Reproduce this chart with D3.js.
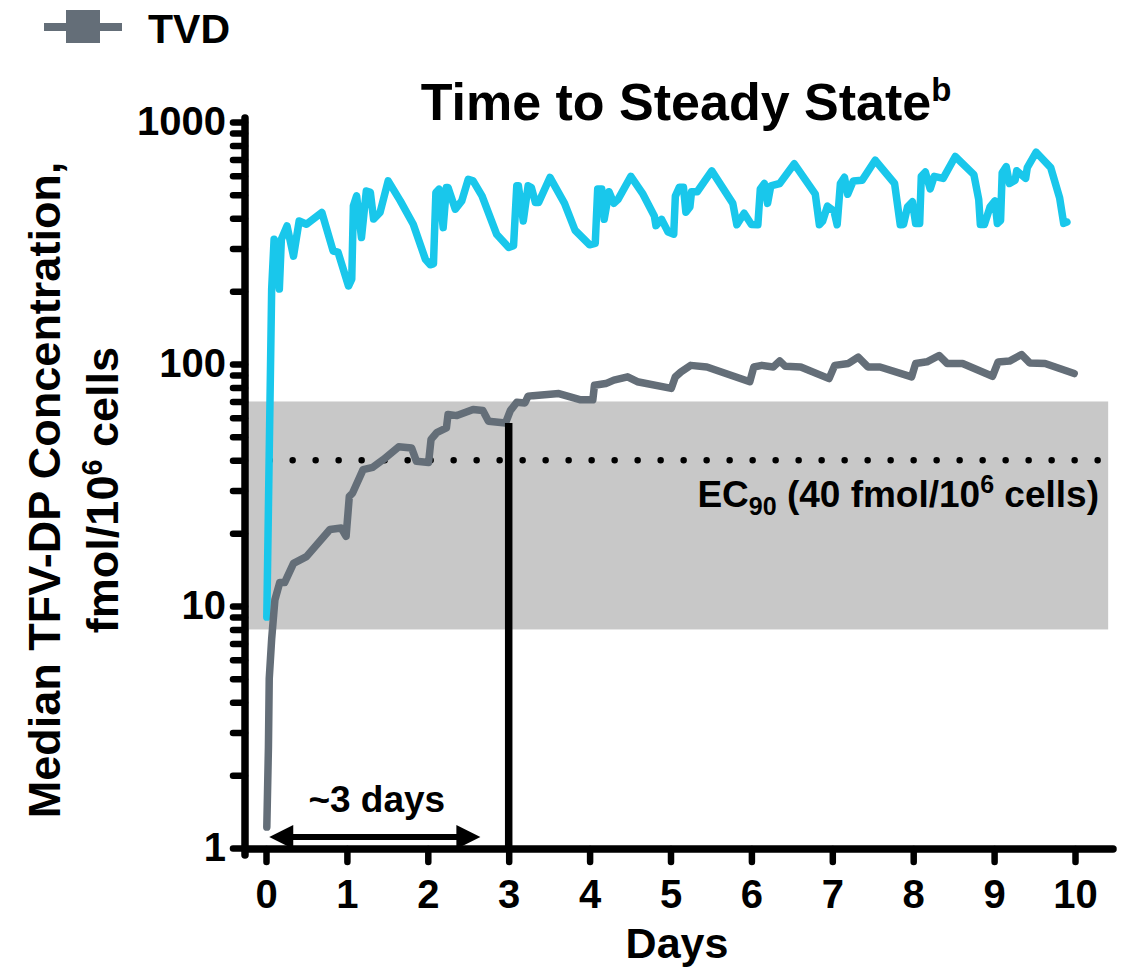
<!DOCTYPE html>
<html>
<head>
<meta charset="utf-8">
<script src="https://cdn.jsdelivr.net/npm/d3@7"></script>
<style>
	body { margin: 0; background: #ffffff; }
	svg { display: block; font-family: 'Liberation Sans', Arial, sans-serif; font-weight: bold; }
</style>
</head>
<body>
<svg id="chart" width="1124" height="972"></svg>
<script>

// series (days, fmol/10^6 cells)
var aTvdDays = [0.01,0.03,0.04,0.07,0.11,0.17,0.23,0.34,0.50,0.79,0.93,0.99,1.03,1.07,1.20,1.32,1.45,1.64,1.80,1.86,2.01,2.04,2.11,2.23,2.25,2.36,2.56,2.68,2.75,2.96,3.02,3.10,3.20,3.24,3.30,3.62,3.89,4.04,4.06,4.20,4.30,4.47,4.59,5.01,5.06,5.13,5.25,5.45,5.98,6.03,6.13,6.27,6.35,6.42,6.61,6.96,7.03,7.20,7.32,7.44,7.59,7.98,8.03,8.17,8.32,8.42,8.61,8.98,9.05,9.19,9.34,9.44,9.63,9.99];
var aTvdValues = [1.22,2.6,5.0,7.3,10.6,12.5,12.5,15.0,16.0,20.7,21.0,19.4,28.4,29.3,36.6,37.4,40.3,45.5,45.0,39.6,39.2,48.8,52,54.4,61.8,61.2,64.9,64.2,58,57,64.2,69.5,69,73.6,74,75.5,71.1,71.1,81.7,83,85.8,88.5,84.5,79.3,88.5,92.8,98.7,97.2,84.5,97.2,98.7,97.2,103,97.8,97.2,87,98.7,100.5,106.7,97.2,97.2,88.5,100.5,102.1,108.4,100.5,100.5,89,102,102.8,109.4,101,100.5,91.3];

var aCyanDays = [0.01,0.07,0.10,0.165,0.19,0.26,0.34,0.41,0.50,0.69,0.83,0.89,1.02,1.06,1.08,1.12,1.18,1.24,1.29,1.33,1.41,1.51,1.66,1.82,1.97,2.03,2.07,2.10,2.14,2.19,2.23,2.25,2.34,2.42,2.50,2.56,2.67,2.85,3.00,3.06,3.10,3.12,3.18,3.24,3.28,3.33,3.37,3.51,3.69,3.82,4.00,4.07,4.10,4.15,4.18,4.24,4.30,4.35,4.51,4.66,4.80,4.82,4.89,4.97,5.04,5.06,5.11,5.16,5.19,5.24,5.26,5.33,5.51,5.77,5.82,5.91,6.00,6.08,6.11,6.16,6.20,6.24,6.35,6.53,6.79,6.84,6.88,6.94,7.02,7.06,7.10,7.15,7.19,7.26,7.37,7.53,7.77,7.84,7.88,7.93,7.99,8.03,8.08,8.10,8.15,8.21,8.26,8.37,8.52,8.75,8.81,8.83,8.88,8.95,9.01,9.04,9.08,9.10,9.15,9.19,9.26,9.28,9.39,9.41,9.52,9.70,9.81,9.86,9.90];
var aCyanValues = [9,204,328,204,328,372,279,390,378,423,293,290,210,224,450,495,333,519,512,397,423,571,472,378,271,257,259,511,528,366,536,536,436,472,580,571,495,344,303,308,545,545,390,545,536,465,465,590,461,357,311,315,529,529,396,515,461,478,596,503,409,373,396,351,344,494,538,538,424,446,515,515,628,461,376,420,377,376,529,557,461,545,557,672,503,376,389,449,429,376,557,591,503,571,575,695,557,376,377,446,468,381,381,596,621,529,596,585,720,606,478,377,377,446,472,381,392,617,654,557,575,629,585,648,750,648,486,381,386];

var aXTicks = [0,1,2,3,4,5,6,7,8,9,10];
var aYMajorTicks = [1,10,100,1000];
var aBand = [8, 70];		// shaded range
var fEc90 = 40;
var fSteadyDay = 3;
var fSteadyValue = 57;

const strGray = '#646e78';
const strCyan = '#19c7eb';
const strFont = "'Liberation Sans', Arial, sans-serif";

var sSvg = d3.select('#chart');

var scaleX = d3.scaleLinear().domain([0, 10]).range([266, 1075]);
var scaleY = d3.scaleLog().domain([1, 1000]).range([848, 122]);

var nAxisX = 245;
var nAxisY = 849;
var nAxisRight = scaleX(10.47);
var nBandRight = scaleX(10.41);

// shaded band
sSvg.append('rect')
	.attr('x', nAxisX)
	.attr('y', scaleY(aBand[1]))
	.attr('width', nBandRight - nAxisX)
	.attr('height', scaleY(aBand[0]) - scaleY(aBand[1]))
	.attr('fill', '#c8c8c8');

// EC90 dotted line
sSvg.append('line')
	.attr('x1', scaleX(0.045)).attr('x2', nBandRight - 8)
	.attr('y1', scaleY(fEc90)).attr('y2', scaleY(fEc90))
	.attr('stroke', '#000')
	.attr('stroke-width', 6.5)
	.attr('stroke-linecap', 'round')
	.attr('stroke-dasharray', '0 23');

var sEc = sSvg.append('text')
	.attr('x', 1099)
	.attr('y', 507)
	.attr('text-anchor', 'end')
	.style('font-size', '37px');
sEc.append('tspan').text('EC');
sEc.append('tspan').attr('dy', 8).style('font-size', '25px').text('90');
sEc.append('tspan').attr('dy', -8).text(' (40 fmol/10');
sEc.append('tspan').attr('dy', -14).style('font-size', '25px').text('6');
sEc.append('tspan').attr('dy', 14).text(' cells)');

// lines
var lineFn = d3.line()
	.x(function(d) { return scaleX(d[0]); })
	.y(function(d) { return scaleY(d[1]); });

var aCyan = aCyanDays.map(function(d, i) { return [d, aCyanValues[i]]; });
var aTvd = aTvdDays.map(function(d, i) { return [d, aTvdValues[i]]; });

sSvg.append('path')
	.attr('d', lineFn(aCyan))
	.attr('fill', 'none')
	.attr('stroke', strCyan)
	.attr('stroke-width', 7.5)
	.attr('stroke-linejoin', 'round')
	.attr('stroke-linecap', 'round');

sSvg.append('path')
	.attr('d', lineFn(aTvd))
	.attr('fill', 'none')
	.attr('stroke', strGray)
	.attr('stroke-width', 7.5)
	.attr('stroke-linejoin', 'round')
	.attr('stroke-linecap', 'round');

// steady state marker
sSvg.append('line')
	.attr('x1', scaleX(fSteadyDay)).attr('x2', scaleX(fSteadyDay))
	.attr('y1', scaleY(fSteadyValue)).attr('y2', nAxisY)
	.attr('stroke', '#000')
	.attr('stroke-width', 7.5);

// ~3 days arrow
var nArrowY = 837;
var nArrowL = scaleX(0.04);
var nArrowR = scaleX(2.65);
sSvg.append('line')
	.attr('x1', nArrowL + 15).attr('x2', nArrowR - 15)
	.attr('y1', nArrowY).attr('y2', nArrowY)
	.attr('stroke', '#000')
	.attr('stroke-width', 6);
sSvg.append('path')
	.attr('d', 'M' + nArrowL + ',' + nArrowY + 'L' + (nArrowL + 24) + ',' + (nArrowY - 12) + 'L' + (nArrowL + 24) + ',' + (nArrowY + 12) + 'Z')
	.attr('fill', '#000');
sSvg.append('path')
	.attr('d', 'M' + nArrowR + ',' + nArrowY + 'L' + (nArrowR - 24) + ',' + (nArrowY - 12) + 'L' + (nArrowR - 24) + ',' + (nArrowY + 12) + 'Z')
	.attr('fill', '#000');
sSvg.append('text')
	.attr('x', (nArrowL + nArrowR) / 2 + 2)
	.attr('y', 812)
	.attr('text-anchor', 'middle')
	.style('font-size', '37px')
	.text('~3 days');

// axes
var aYTicks = [];
aYMajorTicks.forEach(function(f, i)
	{
		for (var k = 1; k < 10; k++)
		{
			if (i < aYMajorTicks.length - 1 || k == 1)
			{
				aYTicks.push(f * k);
			}
		}
	});

var axisY = d3.axisLeft(scaleY)
	.tickValues(aYTicks)
	.tickSize(12)
	.tickPadding(7)
	.tickFormat(function(f)
		{
			return (aYMajorTicks.indexOf(f) >= 0) ? String(f) : '';
		});

var sAxisY = sSvg.append('g')
	.attr('transform', 'translate(' + nAxisX + ',0)')
	.call(axisY);

var axisX = d3.axisBottom(scaleX)
	.tickValues(aXTicks)
	.tickSize(13)
	.tickPadding(18)
	.tickFormat(d3.format('d'));

var sAxisX = sSvg.append('g')
	.attr('transform', 'translate(0,' + nAxisY + ')')
	.call(axisX);

[sAxisX, sAxisY].forEach(function(sAxis)
	{
		sAxis.select('.domain').remove();
		sAxis.selectAll('.tick line')
			.attr('stroke', '#000')
			.attr('stroke-width', 6.5)
			.attr('stroke-linecap', 'round');
		sAxis.selectAll('.tick text')
			.attr('fill', '#000')
			.style('font-size', '40px')
			.style('font-family', strFont)
			.style('font-weight', 'bold');
	});

sSvg.append('line')
	.attr('x1', nAxisX).attr('x2', nAxisX)
	.attr('y1', scaleY(1000) - 4).attr('y2', nAxisY + 6)
	.attr('stroke', '#000')
	.attr('stroke-width', 7.5)
	.attr('stroke-linecap', 'round');

sSvg.append('line')
	.attr('x1', nAxisX).attr('x2', nAxisRight)
	.attr('y1', nAxisY).attr('y2', nAxisY)
	.attr('stroke', '#000')
	.attr('stroke-width', 7.5)
	.attr('stroke-linecap', 'round');

// titles
var sTitle = sSvg.append('text')
	.attr('x', 686)
	.attr('y', 120)
	.attr('text-anchor', 'middle')
	.style('font-size', '52px');
sTitle.append('tspan').text('Time to Steady State');
sTitle.append('tspan').attr('dy', -19).style('font-size', '33px').text('b');

sSvg.append('text')
	.attr('x', 677)
	.attr('y', 958)
	.attr('text-anchor', 'middle')
	.style('font-size', '43px')
	.text('Days');

sSvg.append('text')
	.attr('transform', 'translate(60,490) rotate(-90)')
	.attr('text-anchor', 'middle')
	.style('font-size', '45px')
	.text('Median TFV-DP Concentration,');

var sYLabel2 = sSvg.append('text')
	.attr('transform', 'translate(118,490) rotate(-90)')
	.attr('text-anchor', 'middle')
	.style('font-size', '45px');
sYLabel2.append('tspan').text('fmol/10');
sYLabel2.append('tspan').attr('dy', -16).style('font-size', '29px').text('6');
sYLabel2.append('tspan').attr('dy', 16).text(' cells');

// legend
sSvg.append('line')
	.attr('x1', 44).attr('x2', 122)
	.attr('y1', 27).attr('y2', 27)
	.attr('stroke', strGray)
	.attr('stroke-width', 8);
sSvg.append('rect')
	.attr('x', 66).attr('y', 10)
	.attr('width', 34).attr('height', 33)
	.attr('fill', strGray);
sSvg.append('text')
	.attr('x', 148)
	.attr('y', 43)
	.style('font-size', '41px')
	.text('TVD');

</script>
</body>
</html>
